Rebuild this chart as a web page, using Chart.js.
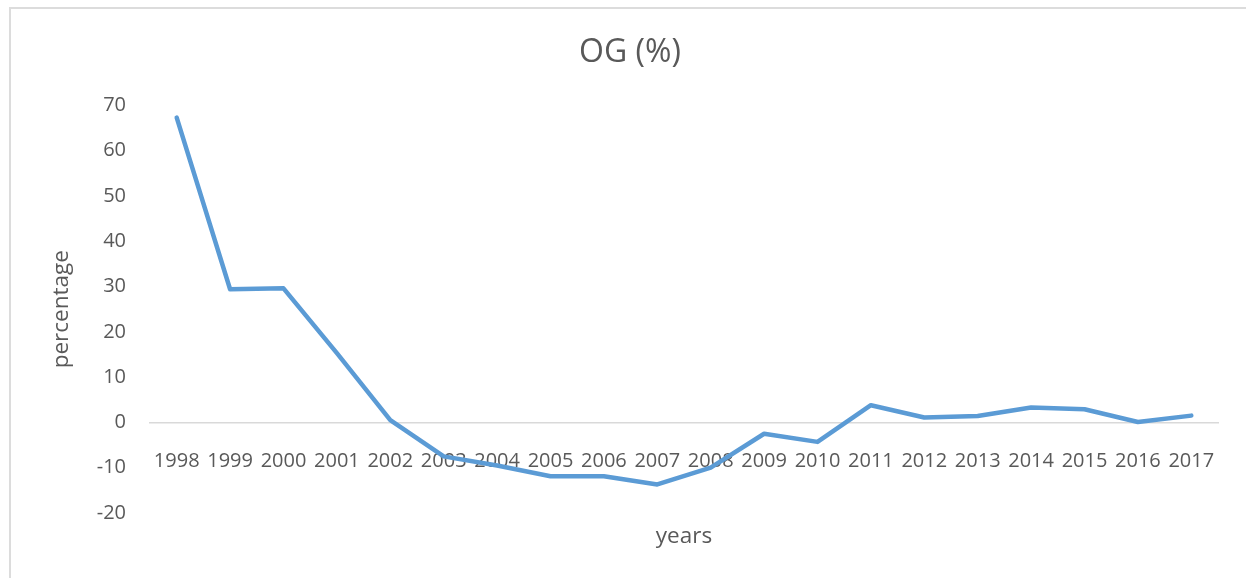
<!DOCTYPE html>
<html>
<head>
<meta charset="utf-8">
<title>OG (%)</title>
<script src="https://cdn.jsdelivr.net/npm/chart.js@4/dist/chart.umd.min.js"></script>
<style>
  html, body { margin: 0; padding: 0; background: #ffffff; overflow: hidden; }
  #frame {
    position: absolute; left: 9px; top: 7px; width: 1400px; height: 700px;
    border-top: 2px solid #dcdcdc; border-left: 2px solid #dcdcdc;
  }
  #wrap { position: absolute; left: 0; top: 0; width: 1246px; height: 578px; }
</style>
</head>
<body>
<div id="frame"></div>
<div id="wrap"><canvas id="chart"></canvas></div>
<script>
// Output gap by year, in percent
const years = ['1998', '1999', '2000', '2001', '2002', '2003', '2004', '2005', '2006', '2007',
               '2008', '2009', '2010', '2011', '2012', '2013', '2014', '2015', '2016', '2017'];
const ogValues = [67.3, 29.4, 29.6, 15.3, 0.5, -7.5, -9.5, -11.9, -11.9, -13.7,
                  -10.0, -2.5, -4.3, 3.8, 1.1, 1.4, 3.3, 2.9, 0.1, 1.5];
const yMin = -20;
const yMax = 70;
const yStep = 10;

const textColor = '#595959';
const fontFamily = '"Open Sans", "DejaVu Sans", sans-serif';

new Chart(document.getElementById('chart'), {
  type: 'line',
  data: {
    labels: years,
    datasets: [{
      label: 'OG (%)',
      data: ogValues,
      borderColor: '#5B9BD5',
      backgroundColor: '#5B9BD5',
      borderWidth: 4.5,
      borderCapStyle: 'round',
      borderJoinStyle: 'round',
      pointRadius: 0,
      pointHoverRadius: 0,
      tension: 0,
      fill: false
    }]
  },
  options: {
    responsive: true,
    maintainAspectRatio: false,
    animation: false,
    layout: { padding: { left: 42, right: 28, top: 0, bottom: 65 } },
    plugins: {
      legend: { display: false },
      tooltip: { enabled: false },
      title: {
        display: true,
        text: 'OG (%)',
        color: textColor,
        font: { family: fontFamily, size: 32, weight: 'normal' },
        padding: { top: 34, bottom: 33 }
      }
    },
    scales: {
      x: {
        position: { y: 0 },
        offset: true,
        grid: { display: false, drawTicks: false },
        border: { display: true, color: '#d9d9d9', width: 1.5 },
        ticks: {
          color: textColor,
          font: { family: fontFamily, size: 20 },
          padding: 27,
          maxRotation: 0,
          autoSkip: false
        },
        title: {
          display: true,
          text: 'years',
          color: textColor,
          font: { family: fontFamily, size: 22.5 },
          padding: { top: 23, bottom: 0 }
        }
      },
      y: {
        min: yMin,
        max: yMax,
        grid: { display: false, drawTicks: false },
        border: { display: false },
        ticks: {
          stepSize: yStep,
          color: textColor,
          font: { family: fontFamily, size: 20 },
          padding: 24
        },
        title: {
          display: true,
          text: 'percentage',
          color: textColor,
          font: { family: fontFamily, size: 22.5 },
          padding: { top: 6.5, bottom: 0 }
        },
        afterFit: (scale) => { scale.width = 108; }
      }
    }
  }
});
</script>
</body>
</html>
